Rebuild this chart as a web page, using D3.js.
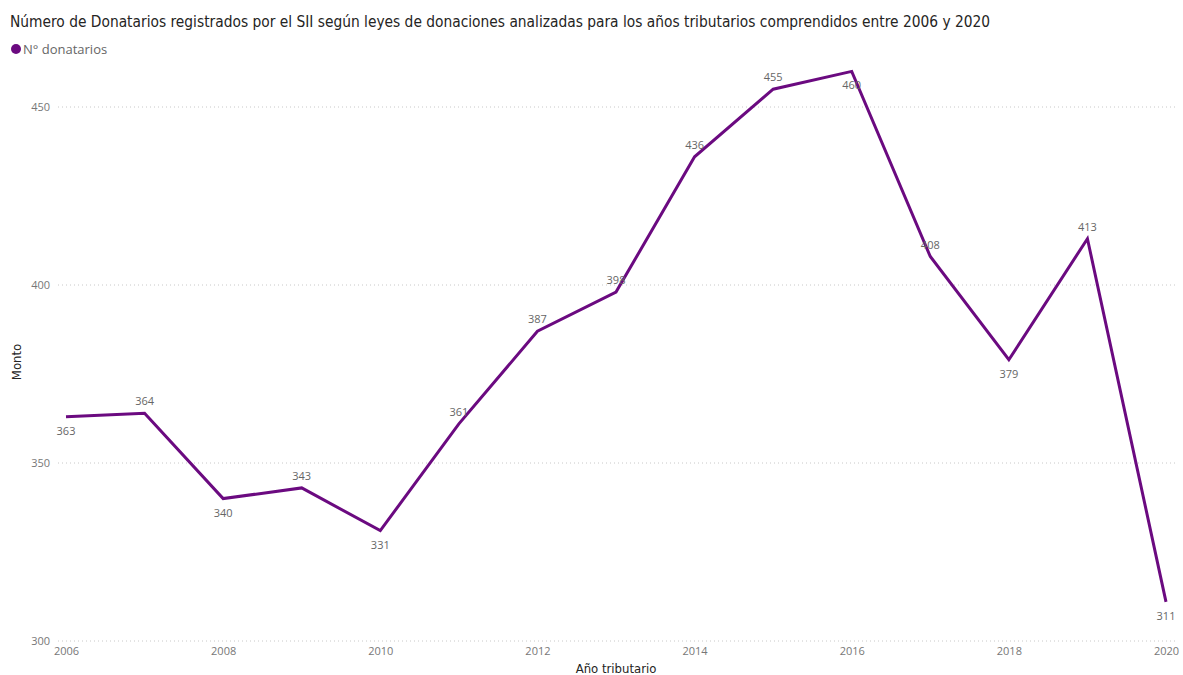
<!DOCTYPE html>
<html>
<head>
<meta charset="utf-8">
<script src="https://cdn.jsdelivr.net/npm/d3@7"></script>
<style>
  body { margin: 0; background: #fff; }
  svg { display: block; font-family: "Open Sans", sans-serif; }
</style>
</head>
<body>
<svg id="chart" width="1183" height="675"></svg>
<script>
// data
const years = [2006, 2007, 2008, 2009, 2010, 2011, 2012, 2013, 2014, 2015, 2016, 2017, 2018, 2019, 2020];
const donatarios = [363, 364, 340, 343, 331, 361, 387, 398, 436, 455, 460, 408, 379, 413, 311];
const yTicks = [300, 350, 400, 450];
const xTicks = [2006, 2008, 2010, 2012, 2014, 2016, 2018, 2020];

const titleText = 'Número de Donatarios registrados por el SII según leyes de donaciones analizadas para los años tributarios comprendidos entre 2006 y 2020';
const lineColor = '#6b0a80';

const svg = d3.select('#chart');

const x = d3.scaleLinear().domain([2006, 2020]).range([66, 1166]);
const y = d3.scaleLinear().domain([300, 450]).range([641, 107]);

// title
svg.append('text')
    .attr('x', 10).attr('y', 27)
    .attr('font-family', '"DejaVu Sans Condensed", "Noto Sans", sans-serif')
    .attr('font-size', 15.35)
    .attr('fill', '#252423')
    .text(titleText);

// legend
svg.append('circle').attr('cx', 16).attr('cy', 49).attr('r', 5).attr('fill', lineColor);
svg.append('text')
    .attr('x', 23).attr('y', 54)
    .attr('font-size', 13)
    .attr('fill', '#666')
    .text('N° donatarios');

// grid
svg.append('g')
    .selectAll('line')
    .data(yTicks)
    .join('line')
    .attr('x1', 58).attr('x2', 1175)
    .attr('y1', d => y(d)).attr('y2', d => y(d))
    .attr('stroke', '#c8c8c8')
    .attr('stroke-dasharray', '1,3');

// y axis
const yAxis = svg.append('g')
    .attr('transform', 'translate(50,0)')
    .call(d3.axisLeft(y).tickValues(yTicks).tickSize(0).tickPadding(0));
yAxis.select('.domain').remove();
yAxis.selectAll('text').attr('font-size', 11).attr('fill', '#777').attr('font-family', '"Open Sans", sans-serif');

// x axis
const xAxis = svg.append('g')
    .attr('transform', 'translate(0,645)')
    .call(d3.axisBottom(x).tickValues(xTicks).tickFormat(d3.format('d')).tickSize(0).tickPadding(2));
xAxis.select('.domain').remove();
xAxis.selectAll('text').attr('font-size', 11).attr('fill', '#777').attr('font-family', '"Open Sans", sans-serif');

// axis titles
svg.append('text')
    .attr('transform', `translate(21,${362}) rotate(-90)`)
    .attr('text-anchor', 'middle')
    .attr('font-size', 13)
    .attr('fill', '#252423')
    .attr('font-family', '"DejaVu Sans Condensed", sans-serif')
    .text('Monto');
svg.append('text')
    .attr('x', 616).attr('y', 673)
    .attr('text-anchor', 'middle')
    .attr('font-size', 13)
    .attr('fill', '#252423')
    .attr('font-family', '"DejaVu Sans Condensed", sans-serif')
    .text('Año tributario');

// line
const pts = years.map((yr, i) => ({ yr, v: donatarios[i], i }));
const line = d3.line().x(d => x(d.yr)).y(d => y(d.v));
svg.append('path')
    .datum(pts)
    .attr('d', line)
    .attr('fill', 'none')
    .attr('stroke', lineColor)
    .attr('stroke-width', 3)
    .attr('stroke-linejoin', 'miter');

// data labels: below for local minima or points too close to the top
function below(d) {
    const prev = donatarios[d.i - 1], next = donatarios[d.i + 1];
    const lowerThanPrev = prev === undefined || d.v < prev;
    const lowerThanNext = next === undefined || d.v < next;
    if (lowerThanPrev && lowerThanNext) return true;
    return y(d.v) < 80;
}
svg.append('g')
    .selectAll('text')
    .data(pts)
    .join('text')
    .attr('x', d => x(d.yr))
    .attr('y', d => below(d) ? y(d.v) + 18 : y(d.v) - 8)
    .attr('text-anchor', 'middle')
    .attr('font-size', 11)
    .attr('fill', '#666')
    .text(d => d.v);
</script>
</body>
</html>
